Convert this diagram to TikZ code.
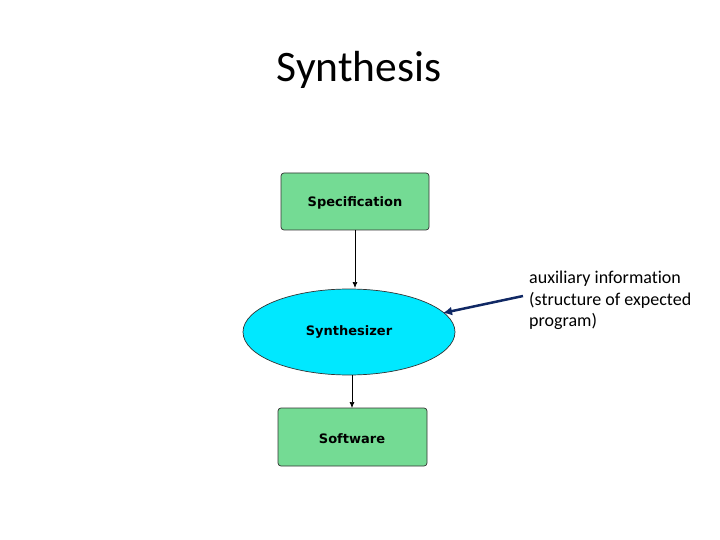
\documentclass[tikz,border=0pt]{standalone}
\usepackage{fontspec}
\setmainfont{Carlito}[Ligatures=NoCommon]
\newfontfamily\boxfont{DejaVu Sans}
\usetikzlibrary{shapes.geometric,arrows.meta}
\definecolor{boxgreen}{RGB}{116,219,148}
\definecolor{ellcyan}{RGB}{0,232,255}
\definecolor{navy}{RGB}{16,40,100}
\begin{document}
\begin{tikzpicture}[x=1pt,y=-1pt,
  greenbox/.style={draw=black!80, fill=boxgreen, rounded corners=3pt, line width=0.7pt},
  boxtext/.style={font=\boxfont\bfseries\fontsize{13}{15}\selectfont},
  flow/.style={-{Latex[length=6pt,width=5pt]}, line width=0.7pt},
  hint/.style={draw=navy, line width=2.5pt, -{Latex[length=9pt,width=9pt]}}]
\useasboundingbox (0,0) rectangle (720,540);
\node[font=\fontsize{43.5}{50}\selectfont] (title) at (359,70) {Synthesis};
\draw[greenbox] (281,173) rectangle (429,230);
\node[boxtext] (spec) at (355,203) {Specification};
\coordinate (specb) at (355,230);
\node[ellipse, draw=black!80, fill=ellcyan, line width=0.7pt, minimum width=212pt, minimum height=86pt, inner sep=0pt,
  boxtext] (syn) at (349,332) {Synthesizer};
\draw[greenbox] (278,408) rectangle (427,466);
\node[boxtext] (soft) at (352,439) {Software};
\coordinate (softt) at (352,408);
\coordinate (synt) at (355,288);
\coordinate (synb) at (352,375);
\draw[flow] (specb) -- (synt);
\draw[flow] (synb) -- (softt);
\node[anchor=north west, align=left, font=\fontsize{18}{21.5}\selectfont, inner sep=0pt] (aux) at (529,271)
  {auxiliary information\\(structure of expected\\program)};
\coordinate (auxs) at (523,296);
\coordinate (auxe) at (443,313);
\draw[hint] (auxs) -- (auxe);
\end{tikzpicture}
\end{document}
